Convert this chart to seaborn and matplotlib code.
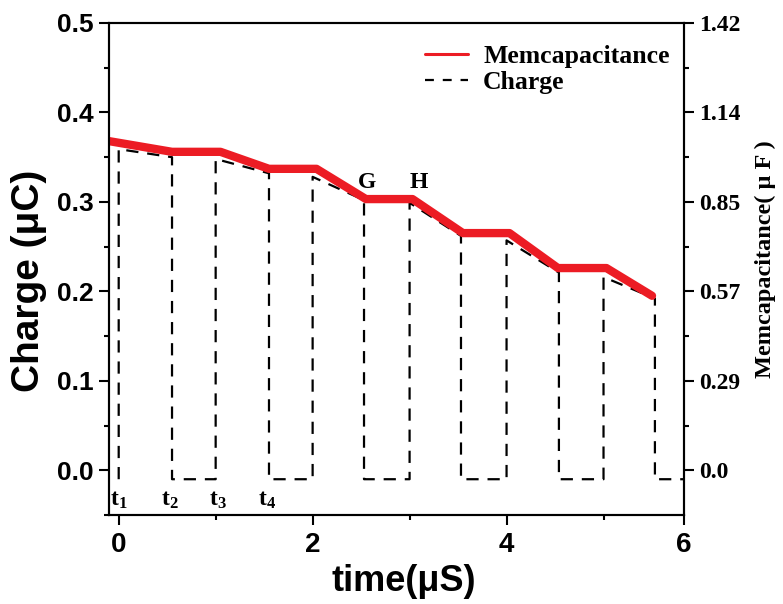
import matplotlib
matplotlib.use("Agg")
import matplotlib.pyplot as plt
from matplotlib.lines import Line2D
from matplotlib.ticker import FixedLocator, MultipleLocator
import numpy as np
import pandas as pd
import seaborn as sns

# charge waveform (uC): corners of the dashed pulse train
charge_time = [0.0, 0.0, 0.55, 0.55, 1.0, 1.0, 1.55, 1.55, 2.0, 2.0, 2.53, 2.53,
               3.0, 3.0, 3.53, 3.53, 4.0, 4.0, 4.54, 4.54, 5.0, 5.0, 5.53, 5.53, 5.9]
charge_value = [-0.01, 0.359, 0.350, -0.01, -0.01, 0.348, 0.332, -0.01,
                -0.01, 0.328, 0.302, -0.01, -0.01, 0.299, 0.262, -0.01,
                -0.01, 0.257, 0.221, -0.01, -0.01, 0.216, 0.192, -0.01, -0.01]

# memcapacitance (uF) on the right axis
mem_time = [-0.1, 0.55, 1.05, 1.55, 2.04, 2.55, 3.03, 3.55, 4.03, 4.53, 5.03, 5.5]
mem_value = [1.045, 1.011, 1.011, 0.957, 0.957, 0.861, 0.861, 0.753, 0.753,
             0.642, 0.642, 0.554]

edge_labels = [r"$\mathbf{t_1}$", r"$\mathbf{t_2}$", r"$\mathbf{t_3}$", r"$\mathbf{t_4}$"]
edge_times = [0.0, 0.53, 1.02, 1.53]
corner_labels = ["G", "H"]
corner_times = [2.56, 3.10]

right_ticks = [0.0, 0.284, 0.568, 0.852, 1.136, 1.42]
right_labels = ["0.0", "0.29", "0.57", "0.85", "1.14", "1.42"]
x_labels = ["0", "2", "4", "6"]

RED = "#ec1c24"
SERIF = dict(family="Liberation Serif", weight="bold")

sns.set_style("ticks")
plt.rcParams["font.family"] = ["Liberation Sans", "DejaVu Sans"]
plt.rcParams["font.weight"] = "bold"
plt.rcParams["mathtext.fontset"] = "custom"
plt.rcParams["mathtext.rm"] = "Liberation Serif:bold"
plt.rcParams["mathtext.bf"] = "Liberation Serif:bold"
for key in ("text.color", "axes.labelcolor", "xtick.color", "ytick.color", "axes.edgecolor"):
    plt.rcParams[key] = "black"

fig = plt.figure(figsize=(7.83, 6.04), dpi=100)
ax = fig.add_axes([109 / 783, 1 - 515 / 604, 575 / 783, 492 / 604])
ax2 = ax.twinx()

charge_df = pd.DataFrame({"time": charge_time, "charge": charge_value})
sns.lineplot(data=charge_df, x="time", y="charge", ax=ax, sort=False,
             estimator=None, color="black", linewidth=1.6,
             linestyle=(0, (5.5, 4)))

mem_df = pd.DataFrame({"time": mem_time, "mem": mem_value})
sns.lineplot(data=mem_df, x="time", y="mem", ax=ax2, sort=False,
             estimator=None, color=RED, linewidth=6,
             solid_joinstyle="round", solid_capstyle="round")

# axis ranges
ax.set_xlim(-0.1, 5.83)
ax.set_ylim(-0.05, 0.5)
ax2.set_ylim(-0.05 * 2.84, 1.42)

# ticks
ax.xaxis.set_major_locator(FixedLocator([0, 2, 4, 5.83]))
ax.set_xticklabels(x_labels)
ax.xaxis.set_minor_locator(FixedLocator([1, 3, 5]))
ax.yaxis.set_major_locator(MultipleLocator(0.1))
ax.yaxis.set_minor_locator(MultipleLocator(0.05))
ax2.yaxis.set_major_locator(FixedLocator(right_ticks))
ax2.set_yticklabels(right_labels, fontsize=17, **SERIF)
ax2.yaxis.set_minor_locator(FixedLocator(np.array(right_ticks[:-1]) + 0.142))

for a in (ax, ax2):
    a.tick_params(which="major", direction="out", length=7, width=1.5, color="black")
    a.tick_params(which="minor", direction="out", length=3.5, width=1.5, color="black")
    for s in a.spines.values():
        s.set_linewidth(1.5)
        s.set_color("black")
ax.tick_params(axis="y", labelsize=19, pad=4)
ax.tick_params(axis="x", labelsize=20, pad=5)
ax.tick_params(top=False, right=False, which="both")
ax2.tick_params(left=False, which="both", pad=4)

# labels
ax.set_xlabel("time(μS)", fontsize=26, fontweight="bold")
ax.xaxis.set_label_coords(0.513, -0.1)
ax.set_ylabel("Charge (μC)", fontsize=28, fontweight="bold")
ax.yaxis.set_label_coords(-0.108, 0.476)
ax2.set_ylabel("Memcapacitance( μ F )", fontsize=17.5, **SERIF)
ax2.yaxis.set_label_coords(1.124, 0.52)

# annotations
for lab, t in zip(edge_labels, edge_times):
    ax.text(t, -0.033, lab, ha="center", va="center", fontsize=17)
for lab, t in zip(corner_labels, corner_times):
    ax.text(t, 0.322, lab, ha="center", va="center", fontsize=17, **SERIF)

handles = [
    Line2D([], [], color=RED, linewidth=2.2),
    Line2D([], [], color="black", linewidth=1.6, linestyle=(0, (4, 4))),
]
ax2.legend(handles, ["Memcapacitance", "Charge"], loc="upper left",
           bbox_to_anchor=(0.55, 0.955), frameon=False, borderpad=0,
           borderaxespad=0, handlelength=1.67, handletextpad=0.58,
           labelspacing=0.12, prop=dict(size=18.5, **SERIF))

fig.savefig("out.png", dpi=100)
